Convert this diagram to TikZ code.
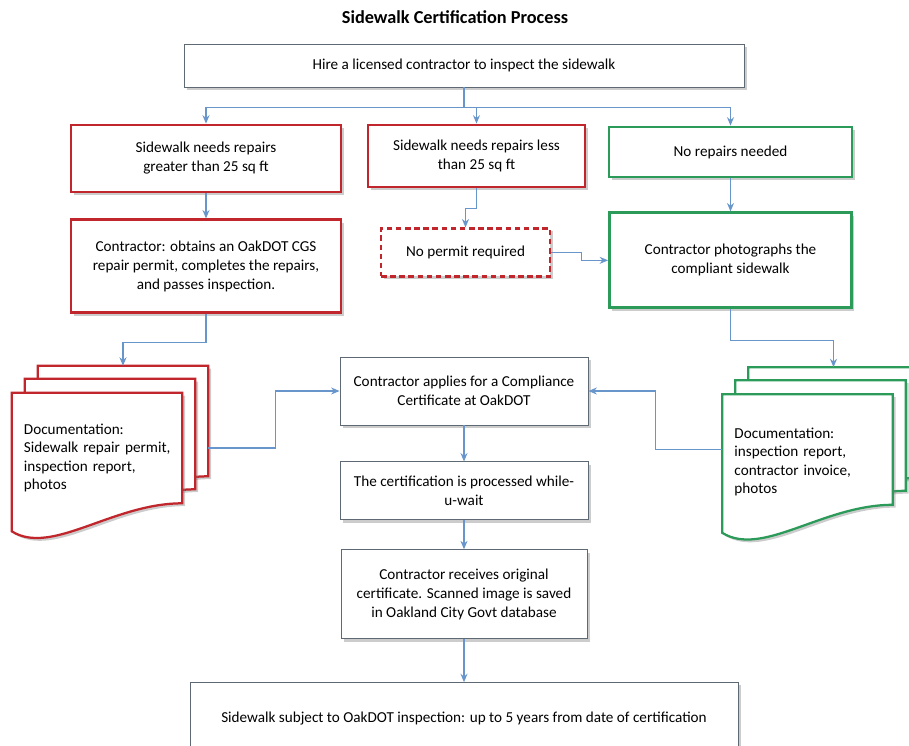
\documentclass[tikz,border=0pt]{standalone}
\usepackage{fontspec}
\setmainfont{Carlito}
\usepackage{xcolor}
\usepackage{tikz}
\usetikzlibrary{shapes.geometric, arrows, arrows.meta}
\usetikzlibrary{positioning, shadows, backgrounds}

\definecolor{linkblue}{RGB}{104,150,203}
\definecolor{edgegray}{RGB}{95,105,115}
\definecolor{edgered}{RGB}{192,38,44}
\definecolor{edgegreen}{RGB}{44,154,88}

\tikzstyle{boxtext} = [font=\fontsize{10.8}{13.5}\selectfont, align=center]
\tikzstyle{softshadow} = [drop shadow={shadow xshift=2pt, shadow yshift=-2pt, opacity=0.4}]
\tikzstyle{greybox} = [rectangle, boxtext, draw=edgegray, line width=0.6pt, fill=white, softshadow]
\tikzstyle{redbox} = [rectangle, boxtext, draw=edgered, line width=2pt, fill=white, softshadow]
\tikzstyle{greenbox} = [rectangle, boxtext, draw=edgegreen, line width=2pt, fill=white, softshadow]
\tikzstyle{dashbox} = [redbox, line width=1.5pt, dash pattern=on 4pt off 2.5pt]
\tikzstyle{docnode} = [rectangle, font=\fontsize{10.8}{13}\selectfont, align=left,
text width=3.65cm, minimum width=4.25cm, minimum height=2.75cm]
\tikzstyle{arrow} = [draw=linkblue, line width=0.8pt, ->, >={Stealth[length=6pt, width=5pt]}]

% one page of a document stack: node, shift, colour
\newcommand{\docpage}[3]{%
  \draw[draw=#3, line width=1.6pt, fill=white, softshadow]
    ([shift={#2}]#1.north west) -- ([shift={#2}]#1.north east)
    -- ([shift={#2}]#1.south east)
    .. controls +(-70,0) and +(40,25) .. ([shift={#2},yshift=-0.7cm]#1.south west)
    -- cycle;}

\begin{document}
\begin{tikzpicture}[x=0.025cm, y=-0.025cm, node distance=0.6cm]
    \useasboundingbox (0,0) rectangle (909,745);

    \node (title) at (455,17) {\fontsize{13}{15}\selectfont\bfseries Sidewalk Certification Process};
    \node (hire) [greybox, minimum width=14cm, minimum height=1.075cm] at (464,65.5)
    {Hire a licensed contractor to inspect the sidewalk};

    \node (big) [redbox, minimum width=6.75cm, minimum height=1.675cm] at (206,158.5)
    {Sidewalk needs repairs\\greater than 25 sq ft};
    \node (small) [redbox, minimum width=5.425cm, minimum height=1.55cm] at (476.5,156)
    {Sidewalk needs repairs less\\than 25 sq ft};
    \node (none) [greenbox, minimum width=6.075cm, minimum height=1.25cm] at (730.5,152)
    {No repairs needed};

    \node (repair) [redbox, minimum width=6.75cm, minimum height=2.325cm, below=0.625cm of big]
    {Contractor: obtains an OakDOT CGS\\repair permit, completes the repairs,\\and passes inspection.};
    \node (nopermit) [dashbox, minimum width=4.225cm, minimum height=1.2cm, below=0.975cm of small, xshift=-0.275cm]
    {No permit required};
    \node (photo) [greenbox, minimum width=6.05cm, minimum height=2.375cm, below=0.825cm of none]
    {Contractor photographs the\\compliant sidewalk};

    % text sits a little below the middle of each front page
    \node (reddoc) [docnode] at (97,458)
    {Documentation:\\\mbox{Sidewalk repair permit,}\\inspection report,\\photos};
    \node (greendoc) [docnode] at (807.5,462)
    {Documentation:\\inspection report,\\contractor invoice,\\photos};

    \node (apply) [greybox, minimum width=6.2cm, minimum height=1.7cm] at (464,391)
    {Contractor applies for a Compliance\\Certificate at OakDOT};
    \node (wait) [greybox, minimum width=6.2cm, minimum height=1.45cm, below=0.9cm of apply]
    {The certification is processed while-\\u-wait};
    \node (receive) [greybox, minimum width=6.15cm, minimum height=2.225cm, below=0.725cm of wait]
    {Contractor receives original\\certificate. Scanned image is saved\\in Oakland City Govt database};
    \node (subject) [greybox, minimum width=13.7cm, minimum height=1.8cm, below=1.075cm of receive]
    {Sidewalk subject to OakDOT inspection: up to 5 years from date of certification};

    \begin{scope}[on background layer]
      \docpage{reddoc}{(26,-37)}{edgered}
      \docpage{reddoc}{(13,-24)}{edgered}
      \docpage{reddoc}{(0,-10)}{edgered}
      \docpage{greendoc}{(26,-39.5)}{edgegreen}
      \docpage{greendoc}{(13,-26.5)}{edgegreen}
      \docpage{greendoc}{(0,-12.5)}{edgegreen}
    \end{scope}

    \draw[arrow] (hire.south) -- ++(0,20) coordinate (fork) -| (big.north);
    \draw[arrow] (fork) -| (small.north);
    \draw[arrow] (fork) -| (none.north);
    \draw[arrow] (big) -- (repair);
    \draw[arrow] (none) -- (photo);
    \draw[arrow] (small.south) -- ++(0,20) -| (nopermit.north);
    \draw[arrow] (nopermit.east) -- ++(30,0) |- (photo.west);
    \draw[arrow] (repair.south) -- ++(0,28) -| ([shift={(26,-37)}]reddoc.north);
    \draw[arrow] (photo.south) -- ++(0,31) -| ([shift={(26,-39.5)}]greendoc.north);
    \draw[arrow] ([shift={(26,-10)}]reddoc.east) -- ++(67,0) |- (apply.west);
    \draw[arrow] ([shift={(0,-12.5)}]greendoc.west) -- ++(-67,0) |- (apply.east);
    \draw[arrow] (apply) -- (wait);
    \draw[arrow] (wait) -- (receive);
    \draw[arrow] (receive) -- (subject);
\end{tikzpicture}
\end{document}
